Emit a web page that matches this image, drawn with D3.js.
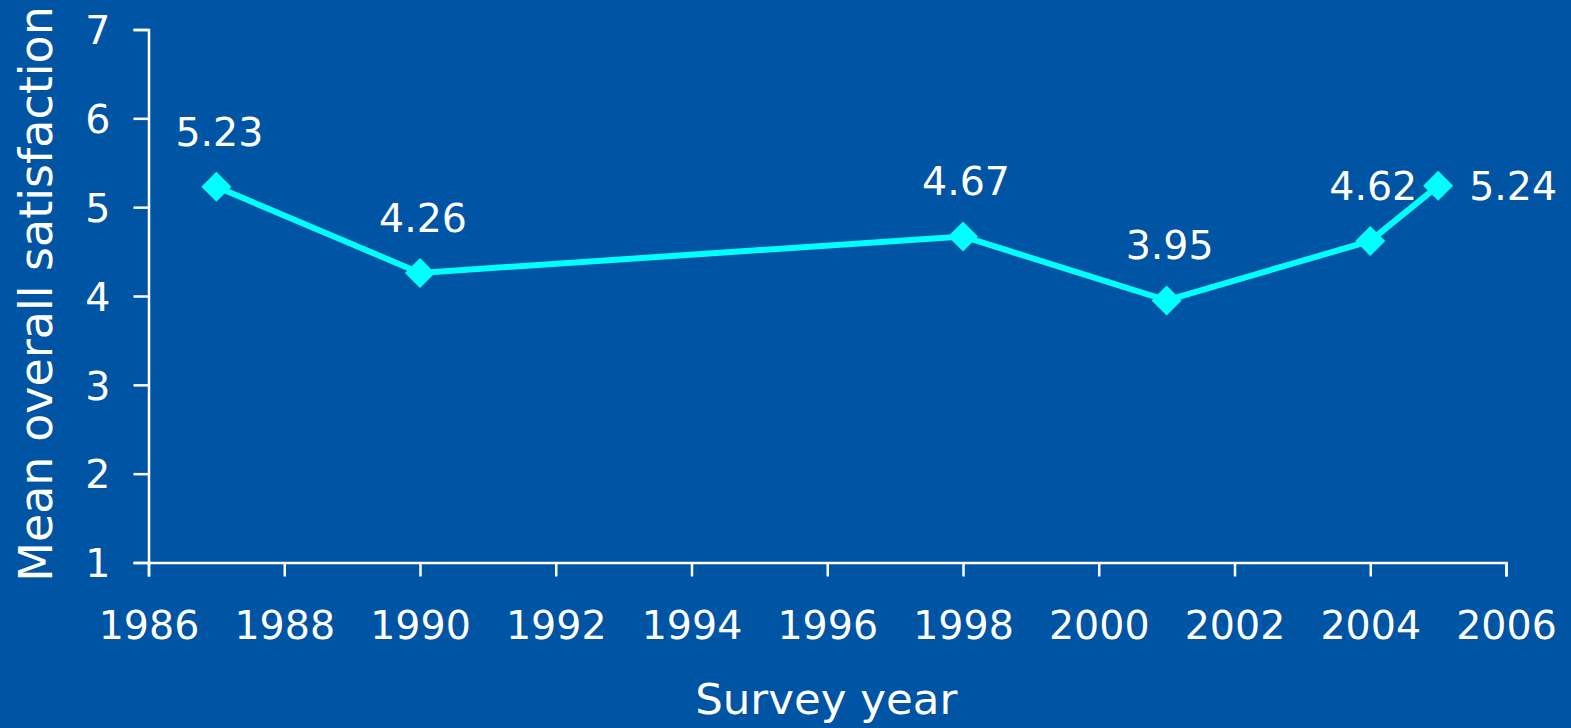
<!DOCTYPE html>
<html>
<head>
<meta charset="utf-8">
<script src="https://cdn.jsdelivr.net/npm/d3@7"></script>
<style>
  html, body { margin: 0; padding: 0; background: #0054a4; }
  svg { display: block; }
  text { font-family: "DejaVu Sans", sans-serif; fill: #ffffff; }
</style>
</head>
<body>
<svg id="chart" width="1571" height="728"></svg>
<script>
// Survey years and mean overall satisfaction scores
const years = [1987, 1990, 1998, 2001, 2004, 2005];
const satisfaction = [5.23, 4.26, 4.67, 3.95, 4.62, 5.24];
const xTicks = [1986, 1988, 1990, 1992, 1994, 1996, 1998, 2000, 2002, 2004, 2006];
const yTicks = [1, 2, 3, 4, 5, 6, 7];
// label placement per point: "above" or "right"
const labelSide = ["above", "above", "above", "above", "above", "right"];

const W = 1571, H = 728;
const svg = d3.select("#chart");

svg.append("rect").attr("width", W).attr("height", H).attr("fill", "#0054a4");

const x = d3.scaleLinear().domain([1986, 2006]).range([148.5, 1506]);
const y = d3.scaleLinear().domain([1, 7]).range([562.5, 29.5]);

// Axes
const xAxis = d3.axisBottom(x).tickValues(xTicks).tickFormat(d3.format("d"))
  .tickSizeInner(14).tickSizeOuter(14).tickPadding(10);
const yAxis = d3.axisLeft(y).tickValues(yTicks).tickFormat(d3.format("d"))
  .tickSizeInner(15).tickSizeOuter(15).tickPadding(23);

const gx = svg.append("g").attr("transform", `translate(0,${y(1)})`).call(xAxis);
const gy = svg.append("g").attr("transform", `translate(${x(1986)},0)`).call(yAxis);

[gx, gy].forEach(g => {
  g.selectAll("path.domain").attr("stroke", "#ffffff").attr("stroke-width", 2.5);
  g.selectAll(".tick line").attr("stroke", "#ffffff").attr("stroke-width", 2.5);
  g.selectAll(".tick text").attr("fill", "#ffffff")
    .style("font-family", "'DejaVu Sans', sans-serif").style("font-size", "39.5px");
});
gx.selectAll(".tick text").attr("dy", "1.34em");
gy.selectAll(".tick text").attr("dy", "0.36em");

// Axis titles
svg.append("text")
  .attr("x", (x(1986) + x(2006)) / 2 - 1)
  .attr("y", 714)
  .attr("text-anchor", "middle")
  .style("font-size", "43.5px")
  .text("Survey year");

svg.append("text")
  .attr("transform", `translate(52,294) rotate(-90)`)
  .attr("text-anchor", "middle")
  .style("font-size", "46px")
  .text("Mean overall satisfaction");

// Series line
const pts = years.map((yr, i) => ({ yr, v: satisfaction[i], side: labelSide[i] }));

svg.append("path")
  .datum(pts)
  .attr("fill", "none")
  .attr("stroke", "#00ffff")
  .attr("stroke-width", 6)
  .attr("d", d3.line().x(d => x(d.yr)).y(d => y(d.v)));

// Diamond markers
svg.selectAll("path.marker")
  .data(pts)
  .enter().append("path")
  .attr("class", "marker")
  .attr("fill", "#00ffff")
  .attr("transform", d => `translate(${x(d.yr)},${y(d.v)})`)
  .attr("d", "M0,-15L15,0L0,15L-15,0Z");

// Value labels
svg.selectAll("text.val")
  .data(pts)
  .enter().append("text")
  .attr("class", "val")
  .style("font-size", "39.5px")
  .attr("text-anchor", d => d.side === "right" ? "start" : "middle")
  .attr("x", d => d.side === "right" ? x(d.yr) + 31 : x(d.yr) + 3)
  .attr("y", d => d.side === "right" ? y(d.v) + 14 : y(d.v) - 41)
  .text(d => d.v.toFixed(2));
</script>
</body>
</html>
